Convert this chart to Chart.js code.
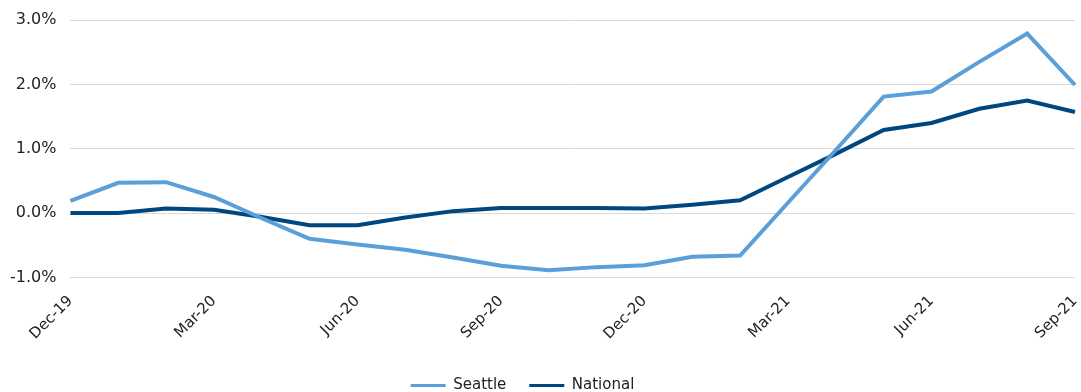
<!DOCTYPE html>
<html>
<head>
<meta charset="utf-8">
<script src="https://cdn.jsdelivr.net/npm/chart.js@4/dist/chart.umd.min.js"></script>
<style>
  html, body { margin: 0; padding: 0; background: #fff; }
  #wrap { width: 1081px; height: 392px; position: relative; }
</style>
</head>
<body>
<div id="wrap"><canvas id="chart"></canvas></div>
<script>
// Месяцы Dec-19 .. Sep-21
const months = ['Dec-19', 'Jan-20', 'Feb-20', 'Mar-20', 'Apr-20', 'May-20', 'Jun-20', 'Jul-20',
    'Aug-20', 'Sep-20', 'Oct-20', 'Nov-20', 'Dec-20', 'Jan-21', 'Feb-21', 'Mar-21',
    'Apr-21', 'May-21', 'Jun-21', 'Jul-21', 'Aug-21', 'Sep-21'];

// Значения в процентах
const seattle = [0.19, 0.47, 0.48, 0.25, -0.08, -0.40, -0.49, -0.57, -0.69, -0.82, -0.89,
    -0.84, -0.81, -0.68, -0.66, 0.16, 0.98, 1.81, 1.89, 2.35, 2.79, 1.99];
const national = [0.00, 0.00, 0.07, 0.05, -0.06, -0.19, -0.19, -0.07, 0.03, 0.08, 0.08,
    0.08, 0.07, 0.13, 0.20, 0.56, 0.92, 1.29, 1.40, 1.62, 1.75, 1.57];

const yTicks = [-1, 0, 1, 2, 3];

const FONT = "'DejaVu Sans', sans-serif";
const TEXT = '#222222';

const ctx = document.getElementById('chart');
new Chart(ctx, {
    type: 'line',
    data: {
        labels: months,
        datasets: [
            {
                label: 'Seattle',
                data: seattle,
                borderColor: '#5b9fd8',
                backgroundColor: '#5b9fd8',
                borderWidth: 4,
                pointRadius: 0,
                tension: 0
            },
            {
                label: 'National',
                data: national,
                borderColor: '#00477f',
                backgroundColor: '#00477f',
                borderWidth: 4,
                pointRadius: 0,
                tension: 0
            }
        ]
    },
    options: {
        responsive: true,
        maintainAspectRatio: false,
        animation: false,
        layout: {
            padding: { top: 20, right: 6, left: -30, bottom: -11 }
        },
        plugins: {
            tooltip: { enabled: false },
            legend: {
                position: 'bottom',
                labels: {
                    boxWidth: 35,
                    boxHeight: 3,
                    padding: 23,
                    color: TEXT,
                    font: { family: FONT, size: 15 },
                    generateLabels: function(chart) {
                        return chart.data.datasets.map((ds, i) => ({
                            text: ds.label,
                            fillStyle: ds.borderColor,
                            strokeStyle: ds.borderColor,
                            lineWidth: 0,
                            fontColor: TEXT,
                            hidden: false,
                            datasetIndex: i
                        }));
                    }
                }
            }
        },
        scales: {
            x: {
                grid: { display: false },
                border: { display: false },
                // последняя подпись не должна сдвигать график влево
                afterFit: function(scale) {
                    scale.paddingRight = 0;
                    scale.height += 5;
                },
                ticks: {
                    autoSkip: false,
                    maxRotation: 45,
                    minRotation: 45,
                    padding: 7,
                    color: TEXT,
                    font: { family: FONT, size: 15 },
                    callback: function(value, index) {
                        return index % 3 === 0 ? months[index] : '';
                    }
                }
            },
            y: {
                min: yTicks[0],
                max: yTicks[yTicks.length - 1],
                afterBuildTicks: function(axis) {
                    axis.ticks = yTicks.map(v => ({ value: v }));
                },
                afterFit: function(scale) {
                    scale.width += 26;
                    scale.paddingTop = 0;
                },
                grid: { color: '#d9d9d9', lineWidth: 1, drawTicks: false },
                border: { display: false },
                ticks: {
                    padding: 14,
                    color: TEXT,
                    font: { family: FONT, size: 16 },
                    callback: function(value) {
                        return value.toFixed(1) + '%';
                    }
                }
            }
        }
    }
});
</script>
</body>
</html>
